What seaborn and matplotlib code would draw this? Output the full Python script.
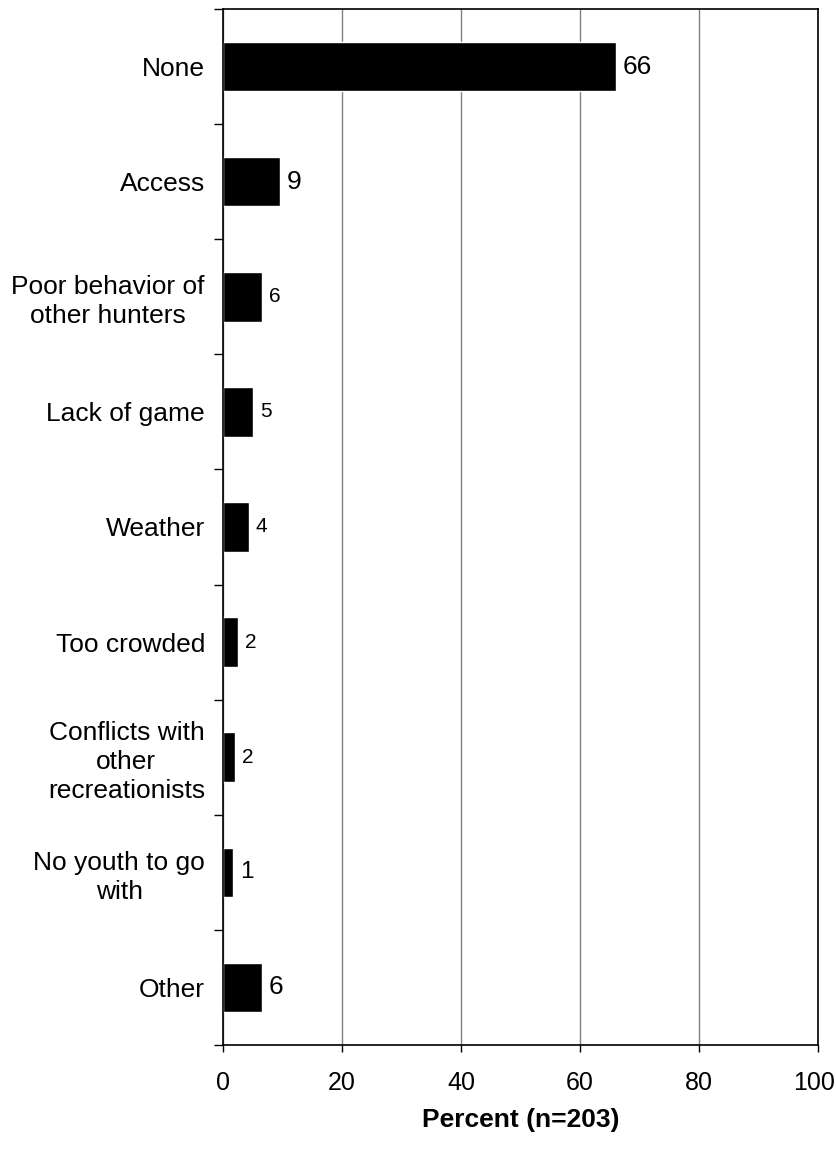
import numpy as np
import pandas as pd
import seaborn as sns
import matplotlib.pyplot as plt
import matplotlib.transforms as mtransforms

categories = ["None", "Access", "Poor behavior of\nother hunters", "Lack of game",
              "Weather", "Too crowded", "Conflicts with\nother\nrecreationists",
              "No youth to go\nwith", "Other"]
percents = [66.0, 9.5, 6.5, 5.1, 4.3, 2.5, 2.0, 1.7, 6.5]
value_labels = ["66", "9", "6", "5", "4", "2", "2", "1", "6"]
x_ticks = [0, 20, 40, 60, 80, 100]

# label sizes in the original are not uniform
label_sizes = [19, 19, 15, 15, 15, 15, 15, 17.5, 19]

df = pd.DataFrame({"category": categories, "percent": percents})

sns.set_style("white")
plt.rcParams['font.family'] = ['Liberation Sans', 'DejaVu Sans']
plt.rcParams['text.color'] = 'black'
plt.rcParams['xtick.labelcolor'] = 'black'
plt.rcParams['ytick.labelcolor'] = 'black'
plt.rcParams['axes.labelcolor'] = 'black'

fig = plt.figure(figsize=(8.36, 11.65), dpi=100)
ax = fig.add_axes([223 / 836, 1 - 1045 / 1165, 595 / 836, 1036 / 1165])

sns.barplot(data=df, x="percent", y="category", color="black",
            width=0.43, orient="h", ax=ax, saturation=1)

ax.set_xlim(0, 100)
ax.set_ylim(len(categories) - 0.5, -0.5)
ax.set_xticks(x_ticks)
ax.set_xticklabels([str(t) for t in x_ticks], fontsize=18)
ax.xaxis.grid(True, color="#808080", linewidth=1)
ax.set_axisbelow(True)

# category labels at centres, tick marks at boundaries
ax.set_yticks(np.arange(len(categories)))
ax.set_yticklabels(categories, fontsize=19)
for lab in ax.get_yticklabels():
    lab.set_multialignment("center")
    lab.set_linespacing(1.25)
ax.tick_params(axis="y", which="major", length=0, pad=13)
ax.set_yticks(np.arange(len(categories) + 1) - 0.5, minor=True)
ax.tick_params(axis="y", which="minor", length=6.5, width=1, color="black", direction="out", left=True)
ax.tick_params(axis="x", which="major", length=5, width=1, color="black", direction="out", bottom=True, pad=14)

# nudge "100" left so it is not clipped at the figure edge
last = ax.get_xticklabels()[-1]
last.set_transform(last.get_transform() + mtransforms.ScaledTranslation(-3 / 72, 0, fig.dpi_scale_trans))

for sp in ax.spines.values():
    sp.set_visible(True)
    sp.set_color("black")
    sp.set_linewidth(1.2)

for i, (v, lab) in enumerate(zip(percents, value_labels)):
    ax.annotate(lab, xy=(v, i), xytext=(5, 0), textcoords="offset points",
                va="center", ha="left", fontsize=label_sizes[i])

ax.set_ylabel("")
ax.set_xlabel("Percent (n=203)", fontsize=19, fontweight="bold", labelpad=9)

plt.savefig("out.png", dpi=100)
